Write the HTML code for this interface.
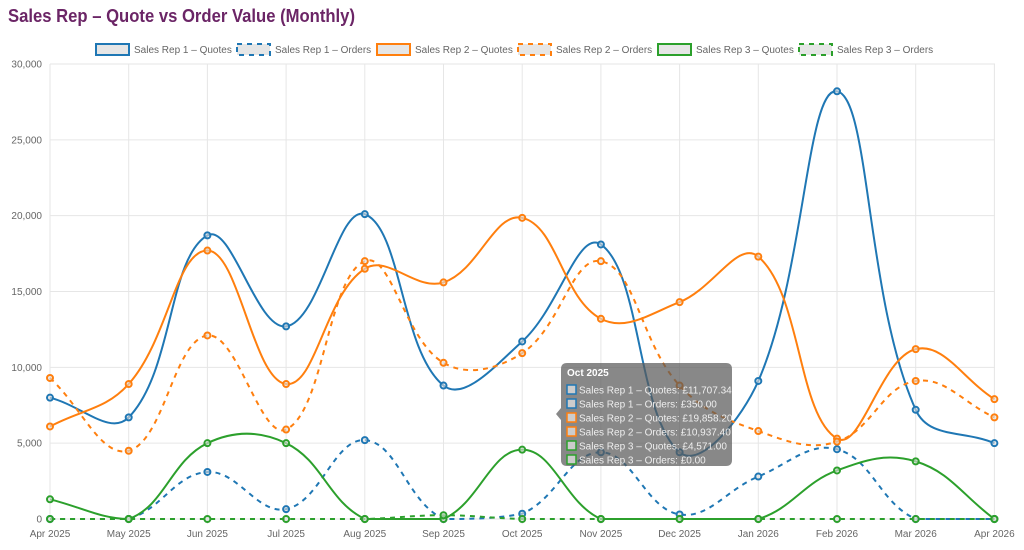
<!DOCTYPE html>
<html><head><meta charset="utf-8"><style>
body{margin:0;background:#fff;width:1024px;height:550px;overflow:hidden;font-family:"Liberation Sans",sans-serif}
svg{position:absolute;left:0;top:0}
</style></head><body>
<svg id="s" width="1024" height="550" font-family="Liberation Sans, sans-serif" font-size="10"></svg>
<script>
const S=document.getElementById('s');let h='';
h+=`<text x="8" y="22" font-size="18" font-weight="bold" fill="#6b2566" textLength="347" lengthAdjust="spacingAndGlyphs">Sales Rep – Quote vs Order Value (Monthly)</text>`;
const X0=50,DX=78.7,Y0=519,K=(519-64)/30000,L=50,R=995,T=64;
const months=['Apr 2025','May 2025','Jun 2025','Jul 2025','Aug 2025','Sep 2025','Oct 2025','Nov 2025','Dec 2025','Jan 2026','Feb 2026','Mar 2026','Apr 2026'];
for(let i=0;i<=6;i++){const y=Y0-i*5000*K;h+=`<line x1="${L}" x2="${R}" y1="${y}" y2="${y}" stroke="#e6e6e6"/><text x="42" y="${y+3.5}" text-anchor="end" fill="#666">${(i*5000).toLocaleString('en-US')}</text>`;}
months.forEach((m,i)=>{const x=X0+i*DX;h+=`<line x1="${x}" x2="${x}" y1="${T}" y2="${Y0+5}" stroke="#e6e6e6"/><text x="${x}" y="537" text-anchor="middle" fill="#666">${m}</text>`;});
const B='#1f77b4',O='#ff7f0e',G='#2ca02c';
const ds=[
[B,0,[8000,6700,18700,12700,20100,8800,11707,18100,4400,9100,28200,7200,5000]],
[B,1,[0,0,3100,650,5200,0,350,4400,300,2800,4600,0,0]],
[O,0,[6100,8900,17700,8900,16500,15600,19858,13200,14300,17300,5300,11200,7900]],
[O,1,[9300,4500,12100,5900,17000,10300,10937,17000,8800,5800,5100,9100,6700]],
[G,0,[1300,0,5000,5000,0,0,4571,0,0,0,3200,3800,0]],
[G,1,[0,0,0,0,0,250,0,0,0,0,0,0,0]]];
function path(p){const t=0.4;let c=[];for(let i=0;i<p.length;i++){const pr=p[i-1]||p[i],cu=p[i],nx=p[i+1]||p[i];const d01=Math.hypot(cu[0]-pr[0],cu[1]-pr[1]),d12=Math.hypot(nx[0]-cu[0],nx[1]-cu[1]);let s01=d01/(d01+d12)||0,s12=d12/(d01+d12)||0;const fa=t*s01,fb=t*s12;
const cl=(x,y)=>[Math.max(L,Math.min(R,x)),Math.max(T,Math.min(Y0,y))];
c.push([cl(cu[0]-fa*(nx[0]-pr[0]),cu[1]-fa*(nx[1]-pr[1])),cl(cu[0]+fb*(nx[0]-pr[0]),cu[1]+fb*(nx[1]-pr[1]))]);}
let d=`M${p[0][0]},${p[0][1]}`;for(let i=1;i<p.length;i++){d+=` C${c[i-1][1][0]},${c[i-1][1][1]} ${c[i][0][0]},${c[i][0][1]} ${p[i][0]},${p[i][1]}`;}return d;}
ds.forEach(([col,dash,v])=>{const p=v.map((a,i)=>[X0+i*DX,Y0-a*K]);h+=`<path d="${path(p)}" fill="none" stroke="${col}" stroke-width="2" ${dash?'stroke-dasharray="5 5"':''}/>`;p.forEach(q=>{h+=`<circle cx="${q[0]}" cy="${q[1]}" r="3" fill="#ddd" fill-opacity="0.6" stroke="${col}" stroke-width="2"/>`;});});
const leg=[[96,B,0,'Sales Rep 1 – Quotes'],[237,B,1,'Sales Rep 1 – Orders'],[377,O,0,'Sales Rep 2 – Quotes'],[518,O,1,'Sales Rep 2 – Orders'],[658,G,0,'Sales Rep 3 – Quotes'],[799,G,1,'Sales Rep 3 – Orders']];
leg.forEach(([x,c,d,t])=>{h+=`<rect x="${x}" y="44" width="33" height="11" fill="#e6e6e6" stroke="${c}" stroke-width="2" ${d?'stroke-dasharray="5 5"':''}/><text x="${x+38}" y="53" fill="#666">${t}</text>`;});
h+=`<path d="M567,363 H726 Q732,363 732,369 V460 Q732,466 726,466 H567 Q561,466 561,460 V420 L556,414 L561,408 V369 Q561,363 567,363Z" fill="rgba(90,90,90,0.72)"/>`;
h+=`<text x="567" y="376" fill="#fff" font-weight="bold">Oct 2025</text>`;
const tl=[[B,'Sales Rep 1 – Quotes: £11,707.34'],[B,'Sales Rep 1 – Orders: £350.00'],[O,'Sales Rep 2 – Quotes: £19,858.20'],[O,'Sales Rep 2 – Orders: £10,937.40'],[G,'Sales Rep 3 – Quotes: £4,571.00'],[G,'Sales Rep 3 – Orders: £0.00']];
tl.forEach(([c,t],i)=>{const y=385+i*14;h+=`<rect x="567" y="${y}" width="9" height="9" fill="#ccc" stroke="${c}" stroke-width="1.5"/><text x="579" y="${y+8.5}" fill="#eee">${t}</text>`;});
S.innerHTML=h;
</script>
</body></html>
